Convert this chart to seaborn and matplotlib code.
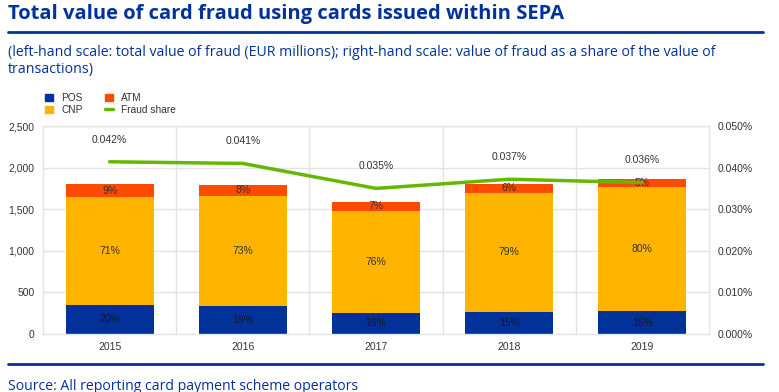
import matplotlib
matplotlib.use("Agg")
import matplotlib.pyplot as plt
import seaborn as sns
import pandas as pd
import numpy as np
from matplotlib.patches import Patch
from matplotlib.lines import Line2D
from matplotlib.ticker import FuncFormatter, MultipleLocator

years = ["2015", "2016", "2017", "2018", "2019"]
pos = [350, 340, 256, 264, 273]
cnp = [1293, 1319, 1219, 1434, 1497]
atm = [160, 132, 115, 105, 89]
fraud_share = [0.0414, 0.0410, 0.0350, 0.0372, 0.0364]
share_labels = ["0.042%", "0.041%", "0.035%", "0.037%", "0.036%"]
pos_pct = ["20%", "19%", "16%", "15%", "15%"]
cnp_pct = ["71%", "73%", "76%", "79%", "80%"]
atm_pct = ["9%", "8%", "7%", "6%", "5%"]

C_POS = "#003299"
C_CNP = "#FFB400"
C_ATM = "#FF4B00"
C_LINE = "#65B800"
TXT = "#333333"
BLUE = "#003299"

sns.set_theme(style="white")
plt.rcParams["font.family"] = ["Liberation Sans", "DejaVu Sans"]

df = pd.DataFrame({"year": years, "POS": pos, "CNP": cnp, "ATM": atm, "share": fraud_share})
df["b_cnp"] = df["POS"]
df["b_atm"] = df["POS"] + df["CNP"]

fig = plt.figure(figsize=(7.79, 3.92), dpi=100)
ax = fig.add_axes([43/779, 1-334/392, (709-43)/779, (334-126)/392])

w = 0.66
sns.barplot(data=df, x="year", y="POS", color=C_POS, width=w, ax=ax, saturation=1,
            edgecolor="none")
sns.barplot(data=df, x="year", y="CNP", bottom=df["b_cnp"], color=C_CNP, width=w, ax=ax,
            saturation=1, edgecolor="none")
sns.barplot(data=df, x="year", y="ATM", bottom=df["b_atm"], color=C_ATM, width=w, ax=ax,
            saturation=1, edgecolor="none")

for i in range(len(years)):
    ax.text(i, pos[i]/2, pos_pct[i], ha="center", va="center", fontsize=7.5, color="#1a1a1a")
    ax.text(i, pos[i] + cnp[i]/2, cnp_pct[i], ha="center", va="center", fontsize=7.5, color=TXT)
    ax.text(i, pos[i] + cnp[i] + atm[i]/2, atm_pct[i], ha="center", va="center", fontsize=7.5, color=TXT)

ax.set_ylim(0, 2500)
ax.set_xlim(-0.5, len(years)-0.5)
ax.yaxis.set_major_locator(MultipleLocator(500))
ax.yaxis.set_major_formatter(FuncFormatter(lambda v, p: f"{int(v):,}"))
ax.set_xlabel("")
ax.set_ylabel("")
ax.tick_params(axis="both", labelsize=7.5, colors=TXT, length=0, pad=6)
ax.grid(False)
GRID = "#e3e3e3"
for v in range(500, 2501, 500):
    ax.axhline(v, color=GRID, lw=1, zorder=0)
for b in np.arange(0.5, len(years)-0.5, 1):
    ax.axvline(b, color=GRID, lw=1, zorder=0)
for s in ax.spines.values():
    s.set_color(GRID)
    s.set_linewidth(1)
ax.set_axisbelow(True)

ax2 = ax.twinx()
sns.lineplot(x=np.arange(len(years)), y=fraud_share, color=C_LINE, lw=2.5, ax=ax2)
ax2.set_ylim(0, 0.05)
ax2.yaxis.set_major_locator(MultipleLocator(0.01))
ax2.yaxis.set_major_formatter(FuncFormatter(lambda v, p: f"{v:.3f}%"))
ax2.tick_params(axis="y", labelsize=7.5, colors=TXT, length=0, pad=6)
for s in ax2.spines.values():
    s.set_visible(False)
for i in range(len(years)):
    ax2.annotate(share_labels[i], (i, fraud_share[i]), xytext=(0, 16), textcoords="offset points",
                 ha="center", va="center", fontsize=7.5, color=TXT)
ax2.set_xlim(-0.5, len(years)-0.5)

# title, subtitle, rules, source
fig.text(8/779, 1-14/392, "Total value of card fraud using cards issued within SEPA",
         fontsize=14.5, fontweight="bold", color=BLUE, family="Open Sans", va="center", ha="left")
fig.add_artist(Line2D([8/779, 763/779], [1-32/392, 1-32/392], color=BLUE, lw=2))
fig.text(8/779, 1-52/392,
         "(left-hand scale: total value of fraud (EUR millions); right-hand scale: value of fraud as a share of the value of",
         fontsize=10.2, color=BLUE, family="Open Sans", va="center", ha="left")
fig.text(8/779, 1-70/392, "transactions)", fontsize=10.2, color=BLUE, family="Open Sans",
         va="center", ha="left")
fig.add_artist(Line2D([8/779, 763/779], [1-364/392, 1-364/392], color=BLUE, lw=2))
fig.text(8/779, 1-386/392, "Source: All reporting card payment scheme operators",
         fontsize=10.1, color=BLUE, family="Open Sans", va="center", ha="left")

handles = [Patch(color=C_POS, label="POS"), Patch(color=C_CNP, label="CNP"),
           Patch(color=C_ATM, label="ATM"), Line2D([], [], color=C_LINE, lw=2.5, label="Fraud share")]
fig.legend(handles=handles, ncol=2, loc="upper left", bbox_to_anchor=(40/779, 1-88/392),
           frameon=False, fontsize=7.3, handlelength=0.8, handleheight=0.8, handletextpad=0.8,
           columnspacing=2.2, labelspacing=0.2, borderpad=0, labelcolor=TXT)

fig.savefig("out.png", dpi=100)
